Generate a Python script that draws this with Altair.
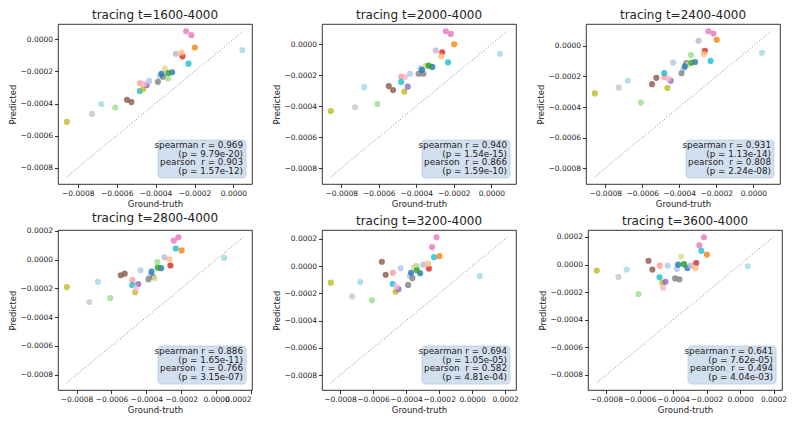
import pandas as pd
import altair as alt

# ground truth is shared by all six windows, predictions differ per window
ids = ["A", "B", "C", "D", "E", "F", "G", "H", "I", "J", "K", "M", "L2", "N",
       "O", "P", "Q", "R", "S", "T", "V", "W", "X", "Y", "Z", "AA", "AB", "AC"]
colors = ["#bcbd22", "#c7c7c7", "#9edae5", "#98df8a", "#8c564b", "#8c564b",
          "#ff9896", "#17becf", "#bcbd22", "#9467bd", "#f7b6d2", "#aec7e8",
          "#aec7e8", "#7f7f7f", "#7f7f7f", "#98df8a", "#dbdb8d", "#1f77b4",
          "#1f77b4", "#2ca02c", "#c5b0d5", "#d62728", "#ffbb78", "#17becf",
          "#ff7f0e", "#e377c2", "#e377c2", "#9edae5"]

gt = [-0.000856, -0.000727, -0.000678, -0.000607, -0.000547, -0.000524,
      -0.000480, -0.000481, -0.000464, -0.000446, -0.000460, -0.000433,
      -0.000378, -0.000388, -0.000362, -0.000337, -0.000352, -0.000370,
      -0.000315, -0.000335, -0.000296, -0.000262, -0.000267, -0.000231,
      -0.000198, -0.000243, -0.000216, 0.000046]

pred_1600 = [-0.000514, -0.000465, -0.000403, -0.000425, -0.000377, -0.000391,
             -0.000274, -0.000322, -0.000310, -0.000286, -0.000278, -0.000259,
             -0.000229, -0.000265, -0.000233, -0.000243, -0.000183, -0.000215,
             -0.000205, -0.000210, -0.000090, -0.000106, -0.000082, -0.000152,
             -0.000051, 0.000050, 0.0000255, -0.0000675]
pred_2000 = [-0.000431, -0.000407, -0.000277, -0.000386, -0.000270, -0.000296,
             -0.000209, -0.000243, -0.000306, -0.000274, -0.000211, -0.000190,
             -0.000156, -0.000190, -0.000190, -0.000140, -0.000141, -0.000165,
             -0.000146, -0.000137, -0.000040, -0.000051, -0.000078, -0.000116,
             0.0, 0.0000844, 0.0000675, -0.0000612]
pred_2400 = [-0.000311, -0.000273, -0.000228, -0.000371, -0.000250, -0.000209,
             -0.000203, -0.000177, -0.000275, -0.000228, -0.000215, -0.000109,
             -0.000151, -0.000179, -0.000113, -0.000060, -0.000124, -0.000134,
             -0.000105, -0.000110, 0.000034, -0.000032, -0.000053, -0.000098,
             0.0000405, 0.000096, 0.000081, -0.0000448]
pred_2800 = [-0.000191, -0.000295, -0.000155, -0.000268, -0.000109, -0.000098,
             -0.000143, -0.000177, -0.000227, -0.000170, -0.000200, -0.000075,
             -0.000112, -0.000136, -0.000120, -0.000018, -0.000130, -0.000084,
             -0.000060, -0.000057, 0.000016, -0.000041, 0.0, 0.000077,
             0.0000636, 0.000132, 0.000155, 0.0000114]
pred_3200 = [-0.000121, -0.000222, -0.000117, -0.000251, 0.000032, -0.000064,
             -0.000049, -0.000131, -0.000188, -0.000169, -0.000150, -0.000016,
             -0.000070, -0.000138, -0.000088, 0.0, -0.000009, -0.000049,
             -0.000052, -0.000030, 0.0000105, -0.000018, 0.000018, 0.000066,
             0.000073, 0.000140, 0.000212, -0.0000734]
pred_3600 = [-0.000043, -0.000090, -0.000036, -0.000213, 0.000028, -0.000036,
             -0.000008, -0.000092, -0.000133, -0.000125, -0.000168, -0.000008,
             -0.000031, -0.000100, -0.000107, 0.0, 0.0000585, -0.0000005,
             -0.000024, 0.000004, -0.0000075, 0.000011, -0.000026, 0.000100,
             0.0000726, 0.000139, 0.000198, -0.0000123]

starts = ["1600", "2000", "2400", "2800", "3200", "3600"]
preds = [pred_1600, pred_2000, pred_2400, pred_2800, pred_3200, pred_3600]
spearman_r = ["0.969", "0.940", "0.931", "0.886", "0.694", "0.641"]
spearman_p = ["9.79e-20", "1.54e-15", "1.13e-14", "1.65e-11", "1.05e-05", "7.62e-05"]
pearson_r = ["0.903", "0.866", "0.808", "0.766", "0.582", "0.494"]
pearson_p = ["1.57e-12", "1.59e-10", "2.24e-08", "3.15e-07", "4.81e-04", "4.04e-03"]

W, H = 194, 160
FONT = "DejaVu Sans"


def panel(i):
    pred = preds[i]
    df = pd.DataFrame({"id": ids, "gt": gt, "pred": pred})
    lo = min(gt + pred)
    hi = max(gt + pred)
    pad = 0.05 * (hi - lo)
    dom = [lo - pad, hi + pad]
    ticks = [round(k * 0.0002, 4) for k in range(-5, 3) if dom[0] <= k * 0.0002 <= dom[1]]
    sc = alt.Scale(domain=dom, nice=False, zero=False)
    xax = alt.Axis(values=ticks, format=".4f", title="Ground-truth")
    yax = alt.Axis(values=ticks, format=".4f", title="Predicted")

    diag = pd.DataFrame({"gt": [lo, hi], "pred": [lo, hi]})
    line = alt.Chart(diag).mark_line(color="#808080", strokeDash=[1, 2], strokeWidth=1).encode(
        x=alt.X("gt:Q", scale=sc, axis=xax),
        y=alt.Y("pred:Q", scale=sc, axis=yax),
    )
    pts = alt.Chart(df).mark_circle(size=38, opacity=0.8).encode(
        x=alt.X("gt:Q", scale=sc, axis=xax),
        y=alt.Y("pred:Q", scale=sc, axis=yax),
        color=alt.Color("id:N", scale=alt.Scale(domain=ids, range=colors), legend=None),
    )

    one = pd.DataFrame({"k": [0]})
    box = alt.Chart(one).mark_rect(fill="#d2dfee", stroke="#b9cde3", strokeWidth=0.8,
                                   cornerRadius=3).encode(
        x=alt.value(W - 94), x2=alt.value(W - 6),
        y=alt.value(H - 44), y2=alt.value(H - 6),
    )
    lines = ["spearman r = " + spearman_r[i],
             "(p = " + spearman_p[i] + ")",
             "pearson\u00a0\u00a0r = " + pearson_r[i],
             "(p = " + pearson_p[i] + ")"]
    txt = alt.Chart(one).mark_text(text=lines, align="right", baseline="top", font=FONT,
                                   fontSize=8.8, lineHeight=8.7, color="#222222").encode(
        x=alt.value(W - 9), y=alt.value(H - 43),
    )
    return alt.layer(line, pts, box, txt).properties(
        width=W, height=H,
        title=alt.TitleParams("tracing t=" + starts[i] + "-4000", frame="group"),
    )


row1 = alt.hconcat(*[panel(i) for i in range(3)], spacing=19)
row2 = alt.hconcat(*[panel(i) for i in range(3, 6)], spacing=19)

chart = alt.vconcat(row1, row2, spacing=3).properties(
    padding={"left": 0, "top": 0, "right": 2, "bottom": 0}
).configure_view(
    stroke="black", strokeWidth=0.8
).configure_axis(
    domain=False, grid=False, tickColor="black", tickSize=3.5, tickWidth=0.8,
    labelFont=FONT, titleFont=FONT, labelFontSize=7.5, titleFontSize=8.5,
    labelColor="#222222", titleColor="#222222", titleFontWeight="normal",
    labelPadding=2, titlePadding=2, labelOverlap=False,
).configure_title(
    font=FONT, fontSize=12, fontWeight="normal", offset=2, color="#222222"
)

chart.save("out.html", embed_options={"renderer": "svg", "actions": False})
